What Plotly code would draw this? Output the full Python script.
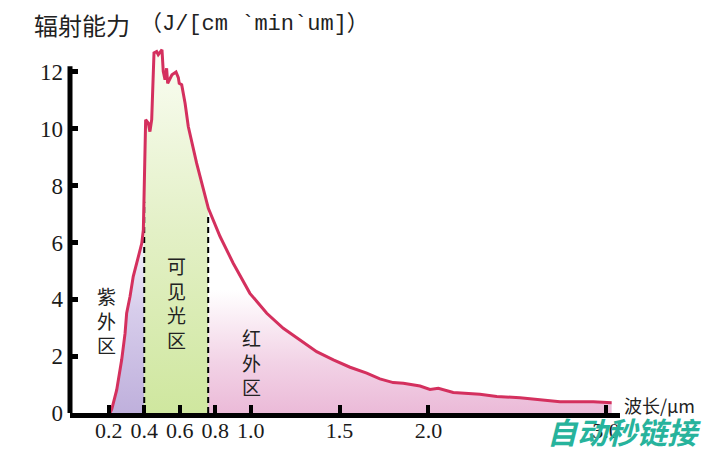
import numpy as np
import plotly.graph_objects as go

# ---- data ----
wavelength = [0.207, 0.217, 0.245, 0.273, 0.292, 0.301, 0.320, 0.338, 0.367, 0.386,
              0.395, 0.399, 0.404, 0.408, 0.423, 0.432, 0.442, 0.445, 0.455, 0.470,
              0.479, 0.500, 0.507, 0.517, 0.526, 0.532, 0.545, 0.556, 0.579, 0.592,
              0.597, 0.611, 0.630, 0.648, 0.695, 0.752, 0.761, 0.827, 0.901, 0.995,
              1.090, 1.183, 1.277, 1.371, 1.465, 1.559, 1.653, 1.727, 1.802, 1.859,
              1.953, 2.009, 2.056, 2.140, 2.290, 2.385, 2.516, 2.629, 2.741, 2.929, 3.032]
intensity = [0.00, 0.13, 0.81, 1.87, 2.80, 3.51, 4.10, 4.80, 5.50, 5.97,
             6.44, 7.50, 8.67, 10.32, 10.20, 9.90, 10.32, 10.79, 12.67, 12.72,
             12.61, 12.78, 12.02, 11.73, 12.13, 11.60, 11.78, 11.90, 12.00, 11.80,
             11.60, 11.55, 10.90, 10.08, 8.79, 7.40, 7.20, 6.21, 5.27, 4.21,
             3.51, 2.98, 2.57, 2.16, 1.87, 1.61, 1.40, 1.20, 1.07, 1.05,
             0.95, 0.83, 0.87, 0.72, 0.66, 0.58, 0.54, 0.48, 0.40, 0.40, 0.36]

region_names = ["紫外区", "可见光区", "红外区"]
region_bounds = [0.207, 0.40, 0.76, 3.032]
dash_positions = [0.40, 0.76]

x_tickvals = [0.2, 0.4, 0.6, 0.8, 1.0, 1.5, 2.0, 3.0]
x_ticktext = ["0.2", "0.4", "0.6", "0.8", "1.0", "1.5", "2.0", "3.0"]
y_tickvals = [0, 2, 4, 6, 8, 10, 12]

w = np.array(wavelength)
v = np.array(intensity)

# ---- styles ----
region_fills = [
    dict(type="vertical", start=0, stop=6.6,
         colorscale=[[0, "#bfb0dc"], [0.55, "#d7cdeb"], [1, "#fbfaff"]]),
    dict(type="vertical", start=0, stop=12.8,
         colorscale=[[0, "#cfe79f"], [0.5, "#e3f0c6"], [1, "#fafdf3"]]),
    dict(type="vertical", start=0, stop=7.2,
         colorscale=[[0, "#ebbad8"], [0.25, "#f2d3e6"], [0.6, "#ffffff"], [1, "#ffffff"]]),
]
curve_color = "#d4305e"

fig = go.Figure()

for i in range(3):
    a, b = region_bounds[i], region_bounds[i + 1]
    m = (w > a) & (w < b)
    xs = np.concatenate([[a], w[m], [b]])
    ys = np.concatenate([[np.interp(a, w, v)], v[m], [np.interp(b, w, v)]])
    fig.add_trace(go.Scatter(x=xs, y=ys, mode="lines", line=dict(width=0),
                             fill="tozeroy", fillgradient=region_fills[i],
                             hoverinfo="skip", showlegend=False))

for d in dash_positions:
    fig.add_trace(go.Scatter(x=[d, d], y=[0, float(np.interp(d, w, v)) - 0.3],
                             mode="lines", line=dict(color="black", width=2, dash="6px,4px"),
                             hoverinfo="skip", showlegend=False))

fig.add_trace(go.Scatter(x=w, y=v, mode="lines",
                         line=dict(color=curve_color, width=3),
                         showlegend=False))

# ---- layout ----
L, R, T, B = 70, 106, 35, 37
W, H = 726, 450
pw, ph = W - L - R, H - T - B

def px(xp):
    return (xp - L) / pw

def py(yp):
    return (H - B - yp) / ph

x_font = dict(family="Liberation Serif, DejaVu Serif, serif", size=22, color="#1a1a1a")
y_font = dict(family="Liberation Serif, DejaVu Serif, serif", size=23, color="#1a1a1a")
cjk = "Noto Sans CJK SC"

fig.update_layout(
    width=W, height=H,
    margin=dict(l=L, r=R, t=T, b=B, autoexpand=False),
    paper_bgcolor="white", plot_bgcolor="white",
    xaxis=dict(range=[-0.018, 3.079], tickvals=x_tickvals, ticktext=x_ticktext,
               ticks="inside", ticklen=8, tickwidth=4, tickcolor="black",
               showline=True, linewidth=5, linecolor="black", automargin=False,
               showgrid=False, zeroline=False, tickfont=x_font, ticklabelstandoff=-6),
    yaxis=dict(range=[0, 13.3], tickvals=y_tickvals,
               ticks="inside", ticklen=8, tickwidth=5, tickcolor="black", automargin=False,
               showline=False, showgrid=False, zeroline=False, tickfont=y_font,
               ticklabelstandoff=6),
)

# y axis line (stops just above the 12 tick)
fig.add_shape(type="line", xref="paper", yref="y", x0=0, x1=0, y0=-0.1, y1=12.2,
              line=dict(color="black", width=5))

ann = []
ann.append(dict(text="辐射能力", x=px(32), y=py(25), xanchor="left", yanchor="middle",
                font=dict(family=cjk, size=24, color="#222")))
ann.append(dict(text="（J/[cm `min`um]）", x=px(138), y=py(25), xanchor="left", yanchor="middle",
                font=dict(family="Liberation Mono, " + cjk, size=22, color="#222")))

label_pos = [(106, 320), (176, 302), (251, 362)]
for name, (cx, cy) in zip(region_names, label_pos):
    ann.append(dict(text="<br>".join(name), x=px(cx), y=py(cy), xanchor="center",
                    yanchor="middle", align="center",
                    font=dict(family=cjk, size=19, color="#222")))

ann.append(dict(text="波长/μm", x=px(622), y=py(405), xanchor="left", yanchor="middle",
                font=dict(family=cjk, size=18, color="#222")))
ann.append(dict(text="自动秒链接", x=px(624), y=py(431), xanchor="center", yanchor="middle",
                font=dict(family=cjk, size=30, color="#27b39c", weight="bold", style="italic")))

for a in ann:
    a.update(xref="paper", yref="paper", showarrow=False)
fig.update_layout(annotations=ann)

fig.write_html("out.html")
